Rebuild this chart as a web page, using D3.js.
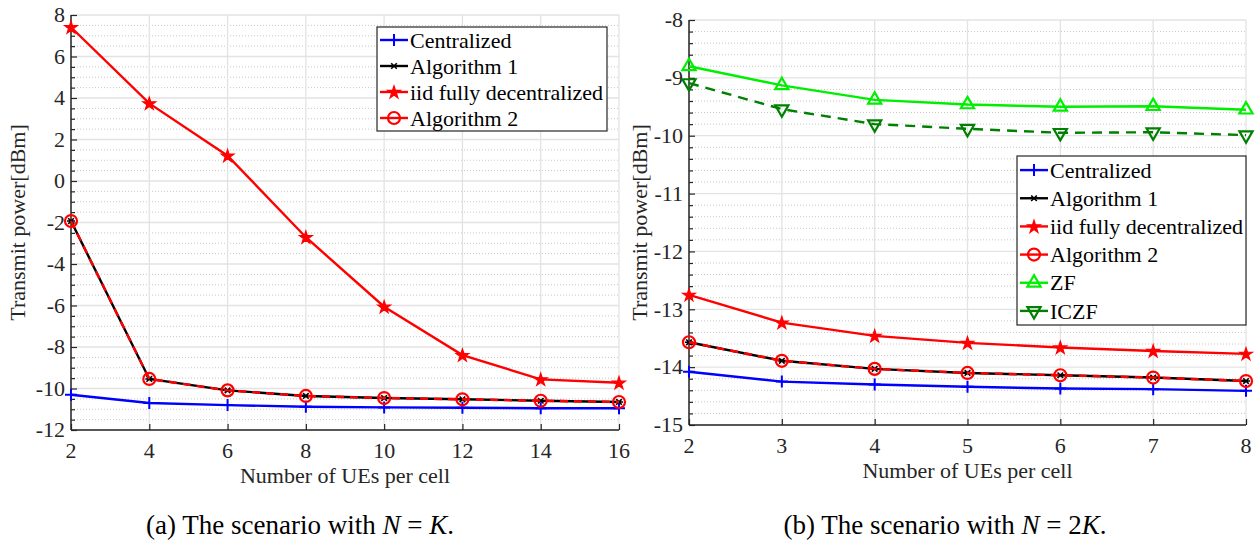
<!DOCTYPE html>
<html>
<head>
<meta charset="utf-8">
<script src="https://cdn.jsdelivr.net/npm/d3@7"></script>
<style>
  body { margin: 0; background: #fff; }
  svg { display: block; font-family: "Liberation Serif", "Times New Roman", serif; }
</style>
</head>
<body>
<svg id="chart" width="1258" height="547"></svg>
<script>
// (a) N = K
var uesA = [2, 4, 6, 8, 10, 12, 14, 16];
var centralA = [-10.3, -10.7, -10.8, -10.88, -10.91, -10.93, -10.95, -10.95];
var alg1A = [-1.93, -9.54, -10.09, -10.36, -10.46, -10.52, -10.59, -10.65];
var iidA = [7.41, 3.74, 1.22, -2.71, -6.06, -8.39, -9.56, -9.72];
var alg2A = [-1.93, -9.54, -10.09, -10.36, -10.46, -10.52, -10.59, -10.65];
var yTicksA = [-12, -10, -8, -6, -4, -2, 0, 2, 4, 6, 8];

// (b) N = 2K
var uesB = [2, 3, 4, 5, 6, 7, 8];
var centralB = [-14.08, -14.25, -14.3, -14.34, -14.37, -14.38, -14.41];
var alg1B = [-13.57, -13.89, -14.03, -14.1, -14.14, -14.18, -14.24];
var iidB = [-12.75, -13.23, -13.46, -13.58, -13.66, -13.72, -13.77];
var alg2B = [-13.57, -13.89, -14.03, -14.1, -14.14, -14.18, -14.24];
var zfB = [-8.8, -9.13, -9.38, -9.46, -9.5, -9.49, -9.55];
var iczfB = [-9.09, -9.54, -9.8, -9.88, -9.95, -9.94, -9.99];
var yTicksB = [-15, -14, -13, -12, -11, -10, -9, -8];

var svg = d3.select("#chart");

// marker shapes that d3.symbol doesn't have as line glyphs
var plusPath = function(s) { return "M" + (-s) + ",0H" + s + "M0," + (-s) + "V" + s; };
var asterPath = function(s) {
  var d = s * 0.7;
  return "M" + (-s) + ",0H" + s + "M" + (-d) + "," + (-d) + "L" + d + "," + d + "M" + (-d) + "," + d + "L" + d + "," + (-d);
};

var series = {
  central: { name: "Centralized", color: "#0000ff", dash: null, marker: "plus" },
  alg1: { name: "Algorithm 1", color: "#000000", dash: null, marker: "aster" },
  iid: { name: "iid fully decentralized", color: "#ff0000", dash: null, marker: "star" },
  alg2: { name: "Algorithm 2", color: "#ff0000", dash: "8,6", marker: "circle" },
  zf: { name: "ZF", color: "#00ee00", dash: null, marker: "up" },
  iczf: { name: "ICZF", color: "#008000", dash: "10,7", marker: "down" }
};

function drawMarker(g, type, color, x, y) {
  var tr = "translate(" + x + "," + y + ")";
  if (type == "plus") {
    g.append("path").attr("d", plusPath(6)).attr("transform", tr)
      .attr("stroke", color).attr("stroke-width", 2).attr("fill", "none");
  } else if (type == "aster") {
    g.append("path").attr("d", asterPath(4)).attr("transform", tr)
      .attr("stroke", color).attr("stroke-width", 1.6).attr("fill", "none");
  } else if (type == "star") {
    g.append("path").attr("d", d3.symbol().type(d3.symbolStar).size(50)())
      .attr("transform", "translate(" + x + "," + (y + 0.5) + ")")
      .attr("fill", color).attr("stroke", color).attr("stroke-width", 1.2);
  } else if (type == "circle") {
    g.append("circle").attr("cx", x).attr("cy", y).attr("r", 6)
      .attr("fill", "none").attr("stroke", color).attr("stroke-width", 2.2);
  } else if (type == "up" || type == "down") {
    var rot = type == "down" ? 180 : 0;
    g.append("path").attr("d", d3.symbol().type(d3.symbolTriangle).size(75)())
      .attr("transform", tr + " rotate(" + rot + ")")
      .attr("fill", "none").attr("stroke", color).attr("stroke-width", 2.2);
  }
}

function drawPanel(cfg) {
  var x = d3.scaleLinear().domain(cfg.xDomain).range([cfg.left, cfg.right]);
  var y = d3.scaleLinear().domain(cfg.yDomain).range([cfg.bottom, cfg.top]);
  var g = svg.append("g");

  // minor grid, y only
  var minors = d3.range(cfg.yDomain[0], cfg.yDomain[1] + 1e-9, cfg.minorStep)
    .filter(function(v) { return Math.abs(v / cfg.majorStep - Math.round(v / cfg.majorStep)) > 1e-6; });
  g.selectAll(".minor").data(minors).enter().append("line")
    .attr("x1", cfg.left).attr("x2", cfg.right)
    .attr("y1", function(d) { return y(d); }).attr("y2", function(d) { return y(d); })
    .attr("stroke", "#c8c8c8").attr("stroke-width", 1).attr("stroke-dasharray", "1,2");

  // major grid
  g.selectAll(".gy").data(cfg.yTicks).enter().append("line")
    .attr("x1", cfg.left).attr("x2", cfg.right)
    .attr("y1", function(d) { return y(d); }).attr("y2", function(d) { return y(d); })
    .attr("stroke", "#e3e3e3").attr("stroke-width", 1.3);
  g.selectAll(".gx").data(cfg.xTicks).enter().append("line")
    .attr("y1", cfg.top).attr("y2", cfg.bottom)
    .attr("x1", function(d) { return x(d); }).attr("x2", function(d) { return x(d); })
    .attr("stroke", "#e3e3e3").attr("stroke-width", 1.3);

  // axes, ticks pointing inward
  var ya = g.append("g").attr("transform", "translate(" + cfg.left + ",0)")
    .call(d3.axisRight(y).tickValues(cfg.yTicks).tickSize(6).tickFormat(""));
  var ym = g.append("g").attr("transform", "translate(" + cfg.left + ",0)")
    .call(d3.axisRight(y).tickValues(minors).tickSize(4).tickFormat(""));
  var xa = g.append("g").attr("transform", "translate(0," + cfg.bottom + ")")
    .call(d3.axisTop(x).tickValues(cfg.xTicks).tickSize(6).tickFormat(""));
  [ya, ym, xa].forEach(function(a) {
    a.select(".domain").attr("stroke", "#262626").attr("stroke-width", 1.5);
    a.selectAll(".tick line").attr("stroke", "#262626").attr("stroke-width", 1.2);
  });
  ya.select(".domain").attr("d", "M0," + cfg.top + "V" + cfg.bottom);
  ym.select(".domain").remove();
  xa.select(".domain").attr("d", "M" + cfg.left + ",0H" + cfg.right);

  // tick labels
  g.selectAll(".yl").data(cfg.yTicks).enter().append("text")
    .attr("x", cfg.left - 6).attr("y", function(d) { return y(d); })
    .attr("dy", "0.33em").attr("text-anchor", "end")
    .attr("font-size", 22).attr("fill", "#262626")
    .text(function(d) { return d; });
  g.selectAll(".xl").data(cfg.xTicks).enter().append("text")
    .attr("x", function(d) { return x(d); }).attr("y", cfg.bottom + 28)
    .attr("text-anchor", "middle").attr("font-size", 22).attr("fill", "#262626")
    .text(function(d) { return d; });

  // axis titles
  g.append("text").attr("x", (cfg.left + cfg.right) / 2).attr("y", cfg.bottom + 53)
    .attr("text-anchor", "middle").attr("font-size", 22).attr("fill", "#262626")
    .text("Number of UEs per cell");
  g.append("text").attr("transform", "translate(" + cfg.yTitleX + "," + ((cfg.top + cfg.bottom) / 2) + ") rotate(-90)")
    .attr("text-anchor", "middle").attr("font-size", 22).attr("fill", "#262626")
    .text("Transmit power[dBm]");

  // lines + markers
  var line = d3.line().x(function(d) { return x(d[0]); }).y(function(d) { return y(d[1]); });
  cfg.series.forEach(function(s) {
    var info = series[s.key];
    var pts = cfg.ues.map(function(u, i) { return [u, s.values[i]]; });
    g.append("path").datum(pts).attr("d", line)
      .attr("fill", "none").attr("stroke", info.color).attr("stroke-width", 2.4)
      .attr("stroke-dasharray", info.dash);
    pts.forEach(function(p) { drawMarker(g, info.marker, info.color, x(p[0]), y(p[1])); });
  });

  // legend
  var lg = g.append("g");
  var lh = cfg.legend.h / cfg.series.length;
  lg.append("rect").attr("x", cfg.legend.x).attr("y", cfg.legend.y)
    .attr("width", cfg.legend.w).attr("height", cfg.legend.h)
    .attr("fill", "#fff").attr("stroke", "#262626").attr("stroke-width", 1.2);
  cfg.series.forEach(function(s, i) {
    var info = series[s.key];
    var cy = cfg.legend.y + lh * (i + 0.5);
    var x0 = cfg.legend.x + 3, x1 = cfg.legend.x + 31;
    lg.append("line").attr("x1", x0).attr("x2", x1).attr("y1", cy).attr("y2", cy)
      .attr("stroke", info.color).attr("stroke-width", 2.4);
    drawMarker(lg, info.marker, info.color, (x0 + x1) / 2, cy);
    lg.append("text").attr("x", x1 + 2).attr("y", cy).attr("dy", "0.35em")
      .attr("font-size", 22).attr("fill", "#000").text(info.name);
  });
}

drawPanel({
  ues: uesA, xDomain: [2, 16], xTicks: uesA,
  yDomain: [-12, 8], yTicks: yTicksA, majorStep: 2, minorStep: 0.5,
  left: 71, right: 619, top: 15, bottom: 430, yTitleX: 25,
  series: [
    { key: "central", values: centralA },
    { key: "alg1", values: alg1A },
    { key: "iid", values: iidA },
    { key: "alg2", values: alg2A }
  ],
  legend: { x: 377, y: 27, w: 230, h: 104 }
});

drawPanel({
  ues: uesB, xDomain: [2, 8], xTicks: uesB,
  yDomain: [-15, -8], yTicks: yTicksB, majorStep: 1, minorStep: 0.2,
  left: 689, right: 1246, top: 20, bottom: 425, yTitleX: 647,
  series: [
    { key: "central", values: centralB },
    { key: "alg1", values: alg1B },
    { key: "iid", values: iidB },
    { key: "alg2", values: alg2B },
    { key: "zf", values: zfB },
    { key: "iczf", values: iczfB }
  ],
  legend: { x: 1017, y: 156, w: 229, h: 169 }
});

// captions with italic N and K
function caption(cx, label, coef) {
  var t = svg.append("text").attr("x", cx).attr("y", 534).attr("text-anchor", "middle")
    .attr("font-size", 27).attr("fill", "#000");
  t.append("tspan").text(label + " The scenario with ");
  t.append("tspan").attr("font-style", "italic").text("N");
  t.append("tspan").text(" = " + coef);
  t.append("tspan").attr("font-style", "italic").text("K");
  t.append("tspan").text(".");
}
caption(300, "(a)", "");
caption(945, "(b)", "2");
</script>
</body>
</html>
